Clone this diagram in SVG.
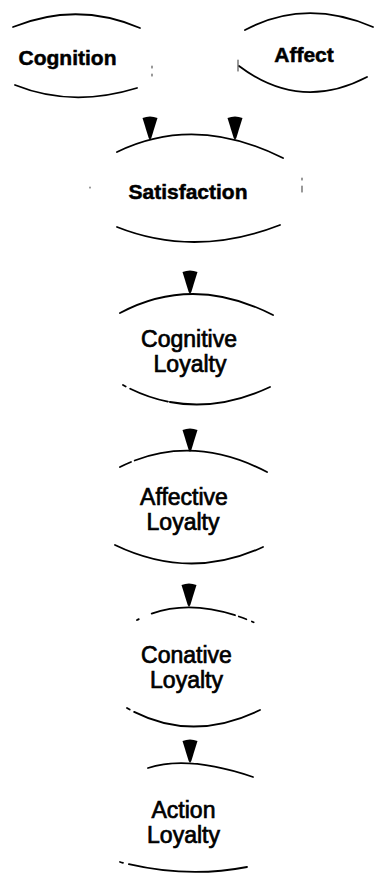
<svg xmlns="http://www.w3.org/2000/svg" width="381" height="873" viewBox="0 0 381 873">
  <style>
    .arc { fill: none; stroke: #000; stroke-width: 1.8; stroke-linecap: round; }
    .faint { fill: none; stroke: #555; stroke-width: 1.2; stroke-linecap: round; }
    .lbl { font-family: "Liberation Sans", Arial, sans-serif; fill: #000; text-anchor: middle; stroke: #000; }
    .bold { font-size: 21px; font-weight: bold; stroke-width: 0.5; }
    .reg { font-size: 23px; stroke-width: 0.7; }
    .conn { fill: none; stroke: none; marker-end: url(#head); }
  </style>
  <defs>
    <!-- teardrop arrowhead, tip at the end of the connector -->
    <marker id="head" markerUnits="userSpaceOnUse" viewBox="-2 0 26 16" markerWidth="26" markerHeight="16" refX="23" refY="8" orient="auto" overflow="visible">
      <path d="M 1 0.5 Q -2 8 1 15.5 L 21 9.3 L 23 8 L 21 6.7 Z" fill="#000"/>
    </marker>
  </defs>
  <rect width="381" height="873" fill="#fff"/>

  <g id="connectors">
    <path class="conn" d="M 150 100 L 150 140"/>
    <path class="conn" d="M 235 100 L 235 140"/>
    <path class="conn" d="M 190 250 L 190 294"/>
    <path class="conn" d="M 190 410 L 190 452"/>
    <path class="conn" d="M 189 565 L 189 607"/>
    <path class="conn" d="M 190 728 L 190 763"/>
  </g>

  <g id="cognition">
    <path class="arc" d="M 13 27 Q 77 1 140 28"/>
    <path class="arc" d="M 15 85 Q 72 108 137 88"/>
    <path class="faint" d="M 152 66 L 152 68 M 152 74 L 152 76"/>
    <text class="lbl bold" x="67.5" y="65">Cognition</text>
  </g>

  <g id="affect">
    <path class="arc" d="M 245 30 Q 305 -2 373 27"/>
    <path class="arc" d="M 239 66 Q 300 112 367 77"/>
    <path class="faint" d="M 238 60 L 238 71"/>
    <text class="lbl bold" x="304" y="62">Affect</text>
  </g>

  <g id="satisfaction">
    <path class="arc" d="M 117 152 Q 195 114 283 158"/>
    <path class="arc" d="M 117 227 Q 195 258 280 225"/>
    <path class="faint" d="M 302 178 L 302 180 M 302 186 L 302 192 M 90 187 L 90 188"/>
    <text class="lbl bold" x="188" y="199">Satisfaction</text>
  </g>

  <g id="cognitive-loyalty">
    <path class="arc" d="M 120 313 Q 193 274 273 315"/>
    <path class="arc" d="M 123 385 Q 193 423 270 387" stroke-dasharray="3 5 40 2 200"/>
    <text class="lbl reg" x="189" y="347">Cognitive</text>
    <text class="lbl reg" x="190" y="372">Loyalty</text>
  </g>

  <g id="affective-loyalty">
    <path class="arc" d="M 120 467 Q 190 432 267 472" stroke-dasharray="12 4 200"/>
    <path class="arc" d="M 115 545 Q 190 581 263 547"/>
    <text class="lbl reg" x="184" y="505">Affective</text>
    <text class="lbl reg" x="183" y="530">Loyalty</text>
  </g>

  <g id="conative-loyalty">
    <path class="arc" d="M 137 620 Q 190 592 262 626" stroke-dasharray="2 14 85 4 8 6 2 200"/>
    <path class="arc" d="M 127 708 Q 190 744 260 710" stroke-dasharray="3 5 200"/>
    <text class="lbl reg" x="186.5" y="663">Conative</text>
    <text class="lbl reg" x="186.5" y="688">Loyalty</text>
  </g>

  <g id="action-loyalty">
    <path class="arc" d="M 148 768 Q 188 755 253 777"/>
    <path class="arc" d="M 120 862 Q 185 879 247 867" stroke-dasharray="3 6 200"/>
    <text class="lbl reg" x="183.5" y="818">Action</text>
    <text class="lbl reg" x="183.5" y="843">Loyalty</text>
  </g>
</svg>
